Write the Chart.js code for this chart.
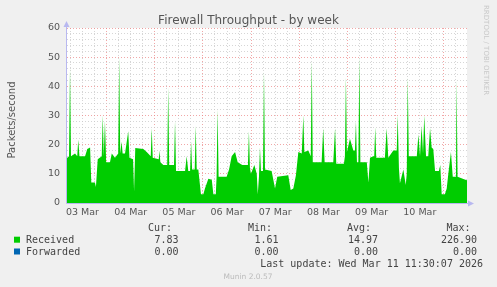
<!DOCTYPE html>
<html lang="en">
<head>
<meta charset="UTF-8">
<title>Firewall Throughput - by week</title>
<script src="https://cdn.jsdelivr.net/npm/chart.js"></script>
<style>
    html, body { margin: 0; padding: 0; background: #f0f0f0; }
    #wrap { width: 497px; height: 287px; }
</style>
</head>
<body>
<div id="wrap"><canvas id="fwChart" width="497" height="287"></canvas></div>
<script>
// hours since 03 Mar 00:00
const hours = [4.3, 5.3, 5.8, 6.3, 8.3, 9.4, 9.9, 10.5, 13.3, 14.4, 15.8, 16.4, 18.2, 18.7, 19.6, 21.6, 22.1, 22.6, 23.2, 23.8,
    25.7, 26.6, 28.2, 29.8, 30.3, 30.8, 31.5, 32.0, 33.2, 34.8, 35.4, 37.2, 37.7, 38.3, 42.3, 44, 46.0, 46.5, 47.0, 50.0,
    50.3, 50.8, 52.3, 54.2, 54.7, 55.2, 56.4, 57.6, 58.1, 58.6, 63.1, 63.9, 64.7, 65.6, 66.1, 66.6, 67.9, 68.4, 68.9, 69.7,
    71.0, 72.2, 73.0, 74.7, 76.4, 77.2, 78.4, 78.8, 79.3, 79.8, 83.8, 85.0, 86.3, 88, 89.3, 91.6, 94.4, 94.9, 95.4, 95.9,
    97.6, 98.8, 99.3, 99.9, 100.4, 100.9, 101.9, 102.4, 102.9, 106.2, 107.9, 109.0, 114.5, 115.7, 117.0, 118.3, 119.5, 121.2, 122.0, 122.5,
    124.5, 125.7, 126.2, 126.7, 131.1, 131.9, 132.6, 136.9, 137.8, 138.4, 142.2, 142.7, 143.2, 143.7, 145.2, 146.9, 147.7, 148.2, 148.7, 149.4,
    149.9, 150.4, 153.6, 154.4, 155.2, 156.8, 157.3, 157.8, 158.3, 162.6, 163.5, 164.3, 166.8, 168.5, 169.0, 169.6, 170.1, 171.8, 173.0, 173.5,
    174.0, 174.5, 178.5, 179.3, 180.1, 180.9, 181.6, 182.2, 183.1, 184.2, 185.1, 185.9, 186.7, 187.6, 189.5, 190.2, 190.9, 192.5, 193.4, 194.2,
    195.5, 196.4, 198.0, 198.3, 198.8, 202.7, 203.5];
const received = [15.4, 16, 46, 16, 17, 16, 21.7, 16, 16, 18.5, 19, 7, 7, 5.5, 15, 16, 30, 16, 28, 14,
    14, 17, 15.5, 17, 50, 17, 21, 17, 17, 24.6, 15.5, 15, 4, 18.9, 18.5, 17.5, 16, 25.6, 15.5, 15,
    18, 14, 13, 13, 39.5, 13, 13, 13, 28, 11, 11, 16, 11, 11, 21, 11.5, 11.5, 26.4, 11.5, 11.5,
    3, 3, 5, 8.3, 8, 3, 3, 9, 32, 9, 9, 11.5, 16, 17.5, 14, 13, 13, 24.6, 12, 10,
    13, 10, 3, 9, 19, 11, 11, 45, 11.5, 11, 5, 9, 9.5, 4.5, 5, 9.5, 17.5, 17, 30, 17.5,
    18, 16, 48.7, 14, 14, 25.6, 14, 14, 25.6, 13.5, 13.5, 16, 43, 17.5, 22, 18, 18, 28, 14, 14,
    50, 14, 14, 7, 15.5, 16, 16, 26, 15.5, 15.5, 25.6, 15.5, 18, 18, 30, 12, 6.8, 11.5, 6.2, 10,
    43, 16, 16, 23.5, 16, 26.4, 17, 30, 16, 16, 25.6, 19, 18.5, 11, 11, 13, 3, 3, 5, 10,
    17.5, 9, 9, 42, 9, 8, 7.8];
const forwarded = hours.map(() => 0);

const dayNames = ['03 Mar', '04 Mar', '05 Mar', '06 Mar', '07 Mar', '08 Mar', '09 Mar', '10 Mar', '11 Mar'];
const xTicks = [6, 12, 18, 24, 30, 36, 42, 48, 54, 60, 66, 72, 78, 84, 90, 96, 102, 108, 114, 120,
    126, 132, 138, 144, 150, 156, 162, 168, 174, 180, 186, 192, 198];
const yTicks = [0, 2, 4, 6, 8, 10, 12, 14, 16, 18, 20, 22, 24, 26, 28, 30, 32, 34, 36, 38, 40,
    42, 44, 46, 48, 50, 52, 54, 56, 58, 60];

const seriesNames = ['Received', 'Forwarded'];
const seriesColors = ['#00cc00', '#0066b3'];
const curVals = ['7.83', '0.00'];
const minVals = ['1.61', '0.00'];
const avgVals = ['14.97', '0.00'];
const maxVals = ['226.90', '0.00'];

const axisCol = '#b8b8f0';
const majorGrid = 'rgba(235,130,130,0.7)';
const minorGrid = 'rgba(200,200,200,0.75)';

const muninDecor = {
    id: 'muninDecor',
    beforeDraw(chart) {
        const { ctx, chartArea: a } = chart;
        ctx.save();
        ctx.fillStyle = '#f0f0f0';
        ctx.fillRect(0, 0, chart.width, chart.height);
        ctx.fillStyle = '#ffffff';
        ctx.fillRect(a.left, a.top, a.right - a.left, a.bottom - a.top);
        ctx.restore();
    },
    afterDraw(chart) {
        const { ctx, chartArea: a } = chart;
        ctx.save();
        // axes with arrows
        ctx.strokeStyle = axisCol;
        ctx.fillStyle = axisCol;
        ctx.lineWidth = 1;
        ctx.beginPath();
        ctx.moveTo(a.left - 0.5, a.bottom + 0.5);
        ctx.lineTo(a.left - 0.5, 25);
        ctx.moveTo(a.left - 0.5, a.bottom + 0.5);
        ctx.lineTo(470, a.bottom + 0.5);
        ctx.stroke();
        ctx.beginPath();
        ctx.moveTo(a.left - 0.5, 21);
        ctx.lineTo(a.left - 3.5, 27);
        ctx.lineTo(a.left + 2.5, 27);
        ctx.closePath();
        ctx.fill();
        ctx.beginPath();
        ctx.moveTo(474, a.bottom + 0.5);
        ctx.lineTo(468, a.bottom - 2.5);
        ctx.lineTo(468, a.bottom + 3.5);
        ctx.closePath();
        ctx.fill();

        // title
        ctx.fillStyle = '#555';
        ctx.font = '12px "DejaVu Sans"';
        ctx.textAlign = 'center';
        ctx.textBaseline = 'alphabetic';
        ctx.fillText('Firewall Throughput - by week', 248.5, 23.5);

        // y title
        ctx.save();
        ctx.translate(15, 120);
        ctx.rotate(-Math.PI / 2);
        ctx.font = '10px "DejaVu Sans"';
        ctx.fillText('Packets/second', 0, 0);
        ctx.restore();

        // rrdtool tag
        ctx.save();
        ctx.translate(484, 5);
        ctx.rotate(Math.PI / 2);
        ctx.fillStyle = '#c8c8c8';
        ctx.font = '7px "DejaVu Sans"';
        ctx.textAlign = 'left';
        ctx.fillText('RRDTOOL / TOBI OETIKER', 0, 0);
        ctx.restore();

        // legend table
        ctx.font = '10px "DejaVu Sans Mono"';
        ctx.fillStyle = '#444';
        ctx.textAlign = 'right';
        ctx.fillText('Cur:', 172, 231);
        ctx.fillText('Min:', 272, 231);
        ctx.fillText('Avg:', 371, 231);
        ctx.fillText('Max:', 470.5, 231);
        const rowY = [242.7, 254.5];
        seriesNames.forEach((name, i) => {
            ctx.fillStyle = seriesColors[i];
            ctx.fillRect(14, rowY[i] - 6, 6, 6);
            ctx.fillStyle = '#444';
            ctx.textAlign = 'left';
            ctx.fillText(name, 26, rowY[i]);
            ctx.textAlign = 'right';
            ctx.fillText(curVals[i], 178.5, rowY[i]);
            ctx.fillText(minVals[i], 278.5, rowY[i]);
            ctx.fillText(avgVals[i], 378, rowY[i]);
            ctx.fillText(maxVals[i], 477, rowY[i]);
        });
        ctx.fillText('Last update: Wed Mar 11 11:30:07 2026', 483, 266.5);

        ctx.fillStyle = '#bbb';
        ctx.textAlign = 'center';
        ctx.font = '7.5px "DejaVu Sans"';
        ctx.fillText('Munin 2.0.57', 248, 279);
        ctx.restore();
    }
};

new Chart(document.getElementById('fwChart'), {
    type: 'line',
    data: {
        datasets: [{
            label: seriesNames[0],
            data: hours.map((h, i) => ({ x: h, y: received[i] })),
            backgroundColor: seriesColors[0],
            borderColor: seriesColors[0],
            borderWidth: 0,
            fill: 'origin',
            pointRadius: 0,
            tension: 0
        }, {
            label: seriesNames[1],
            data: hours.map((h, i) => ({ x: h, y: forwarded[i] })),
            borderColor: seriesColors[1],
            borderWidth: 1,
            fill: false,
            pointRadius: 0
        }]
    },
    options: {
        responsive: false,
        animation: false,
        events: [],
        layout: { padding: { left: 0, top: 28, right: 30, bottom: 64 } },
        plugins: { legend: { display: false }, tooltip: { enabled: false } },
        scales: {
            x: {
                type: 'linear',
                min: 4.3,
                max: 203.5,
                afterFit: s => { s.height = 20; },
                afterBuildTicks: s => { s.ticks = xTicks.map(v => ({ value: v })); },
                border: { display: false, dash: [1, 2] },
                grid: {
                    drawTicks: false,
                    color: c => (c.tick && c.tick.value % 24 === 0) ? majorGrid : minorGrid
                },
                ticks: {
                    autoSkip: false,
                    maxRotation: 0,
                    padding: 4,
                    color: '#555',
                    font: { family: 'DejaVu Sans', size: 9.5 },
                    callback: v => (v % 24 === 12) ? dayNames[Math.floor(v / 24)] : ''
                }
            },
            y: {
                min: 0,
                max: 60,
                afterFit: s => { s.width = 67; },
                afterBuildTicks: s => { s.ticks = yTicks.map(v => ({ value: v })); },
                border: { display: false, dash: [1, 2] },
                grid: {
                    drawTicks: false,
                    color: c => (c.tick && c.tick.value % 10 === 0) ? majorGrid : minorGrid
                },
                ticks: {
                    autoSkip: false,
                    padding: 7,
                    color: '#555',
                    font: { family: 'DejaVu Sans', size: 9.5 },
                    callback: v => (v % 10 === 0) ? String(v) : ''
                }
            }
        }
    },
    plugins: [muninDecor]
});
</script>
</body>
</html>
